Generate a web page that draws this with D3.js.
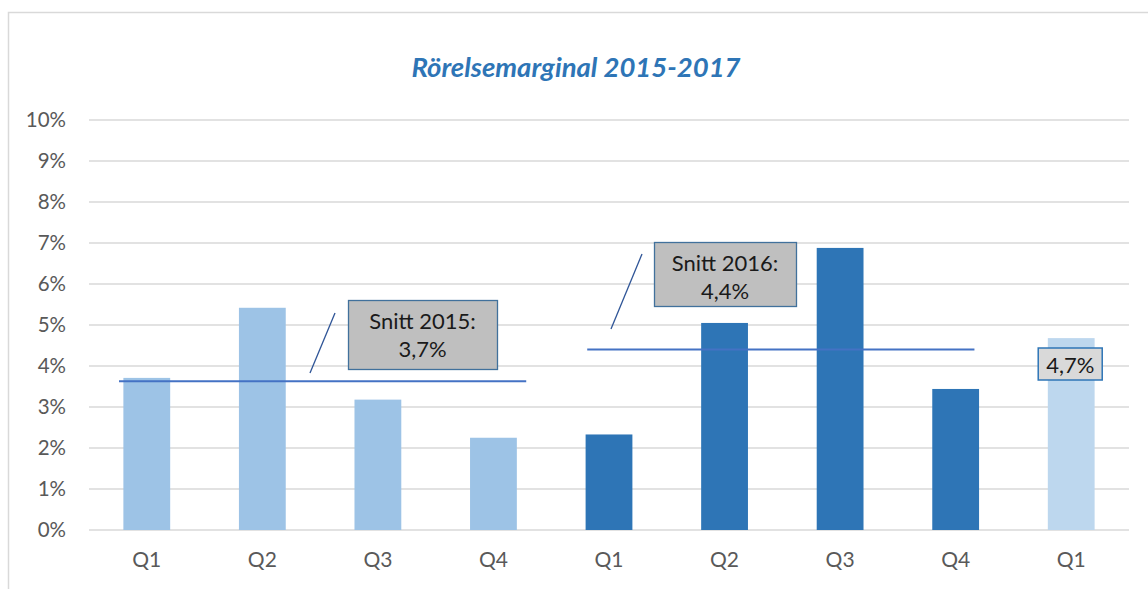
<!DOCTYPE html>
<html>
<head>
<meta charset="utf-8">
<script src="https://cdn.jsdelivr.net/npm/d3@7"></script>
<style>
  body { margin: 0; background: #fff; }
  svg { display: block; font-family: Lato, "Open Sans", sans-serif; }
</style>
</head>
<body>
<svg id="chart"></svg>
<script>
// quarters and margins (%)
const quarters = ["Q1", "Q2", "Q3", "Q4", "Q1", "Q2", "Q3", "Q4", "Q1"];
const years = [2015, 2015, 2015, 2015, 2016, 2016, 2016, 2016, 2017];
const margins = [3.71, 5.42, 3.18, 2.25, 2.33, 5.05, 6.88, 3.44, 4.68];
const yTicks = [0, 1, 2, 3, 4, 5, 6, 7, 8, 9, 10];
const avgYears = [2015, 2016];
const avgValues = [3.63, 4.4];
const avgLabels = [["Snitt 2015:", "3,7%"], ["Snitt 2016:", "4,4%"]];
const lastLabel = "4,7%";

const yearColor = { 2015: "#9dc3e6", 2016: "#2e75b6", 2017: "#bdd7ee" };

const svg_width = 1148, svg_height = 589;
const margin = { top: 120, right: 19, bottom: 59, left: 89 },
    width = svg_width - margin.left - margin.right,
    height = svg_height - margin.top - margin.bottom;

const root = d3.select("#chart")
    .attr("width", svg_width)
    .attr("height", svg_height);

// chart frame (top and left edges only visible)
root.append("path")
    .attr("d", `M8.5,${svg_height} V12.5 H${svg_width}`)
    .attr("fill", "none")
    .attr("stroke", "#d9d9d9")
    .attr("stroke-width", 1.5);

root.append("text")
    .attr("x", 576)
    .attr("y", 77)
    .attr("text-anchor", "middle")
    .attr("font-size", 27.5)
    .attr("font-weight", "bold")
    .attr("font-style", "italic")
    .attr("fill", "#2e75b6")
    .text("Rörelsemarginal 2015-2017");

const svg = root.append("g")
    .attr("transform", `translate(${margin.left},${margin.top})`);

const idx = d3.range(quarters.length);
const x = d3.scaleBand().domain(idx).range([0, width]).paddingInner(0.595).paddingOuter(0.2975);
const y = d3.scaleLinear().domain([0, 10]).range([height, 0]);

// gridlines
svg.append("g")
    .selectAll("line")
    .data(yTicks)
    .join("line")
    .attr("x1", 0)
    .attr("x2", width)
    .attr("y1", d => y(d))
    .attr("y2", d => y(d))
    .attr("stroke", "#d9d9d9")
    .attr("stroke-width", 1.5);

const yAxis = svg.append("g")
    .call(d3.axisLeft(y).tickValues(yTicks).tickSize(0).tickPadding(23).tickFormat(d => d + "%"));
yAxis.select(".domain").remove();
yAxis.selectAll("text")
    .attr("font-family", "Lato, 'Open Sans', sans-serif")
    .attr("font-size", 20.5)
    .attr("fill", "#595959");

const xAxis = svg.append("g")
    .attr("transform", `translate(0,${height})`)
    .call(d3.axisBottom(x).tickSize(0).tickPadding(22).tickFormat(i => quarters[i]));
xAxis.select(".domain").remove();
xAxis.selectAll("text")
    .attr("font-family", "Lato, 'Open Sans', sans-serif")
    .attr("font-size", 21)
    .attr("fill", "#595959");

// bars
svg.append("g")
    .selectAll("rect")
    .data(idx)
    .join("rect")
    .attr("x", i => x(i))
    .attr("width", x.bandwidth())
    .attr("y", i => y(margins[i]))
    .attr("height", i => height - y(margins[i]))
    .attr("fill", i => yearColor[years[i]]);

// average lines per year
const step = x.step();
const avgGroup = svg.append("g");
const callouts = [
    { box: [259, 180, 149, 69], lead: [[221, 253], [246, 193]] },
    { box: [565, 122, 142, 64], lead: [[522, 209], [553, 134]] }
];
avgYears.forEach((yr, k) => {
    const first = years.indexOf(yr), last = years.lastIndexOf(yr);
    const x0 = x(first) - x.step() * x.paddingOuter() + (k === 0 ? 30 : 36);
    const x1 = x(last) + x.bandwidth() + step * x.paddingInner() / 2 - (k === 0 ? 25 : 39);
    avgGroup.append("line")
        .attr("x1", x0).attr("x2", x1)
        .attr("y1", y(avgValues[k])).attr("y2", y(avgValues[k]))
        .attr("stroke", "#4472c4")
        .attr("stroke-width", 2);
});

// callout boxes
callouts.forEach((c, k) => {
    const [bx, by, bw, bh] = c.box;
    avgGroup.append("line")
        .attr("x1", c.lead[0][0]).attr("y1", c.lead[0][1])
        .attr("x2", c.lead[1][0]).attr("y2", c.lead[1][1])
        .attr("stroke", "#2f5597")
        .attr("stroke-width", 1.3);
    avgGroup.append("rect")
        .attr("x", bx + 0.5).attr("y", by + 0.5)
        .attr("width", bw).attr("height", bh)
        .attr("fill", "#bfbfbf")
        .attr("stroke", "#41719c")
        .attr("stroke-width", 1.3);
    avgGroup.append("text")
        .attr("text-anchor", "middle")
        .attr("font-size", 22)
        .attr("fill", "#1a1a1a")
        .selectAll("tspan")
        .data(avgLabels[k])
        .join("tspan")
        .attr("x", bx + bw / 2)
        .attr("y", (d, j) => by + 29 + j * 28)
        .text(d => d);
});

// label on the 2017 bar
const li = margins.length - 1;
const lcx = x(li) + x.bandwidth() / 2;
const ly = y(4.0) + 0;
avgGroup.append("rect")
    .attr("x", lcx - 33).attr("y", ly - 18)
    .attr("width", 64).attr("height", 32)
    .attr("fill", "#d9d9d9")
    .attr("stroke", "#2e75b6")
    .attr("stroke-width", 1.5);
avgGroup.append("text")
    .attr("x", lcx - 1)
    .attr("y", ly + 7)
    .attr("text-anchor", "middle")
    .attr("font-size", 22)
    .attr("fill", "#1a1a1a")
    .text(lastLabel);
</script>
</body>
</html>
